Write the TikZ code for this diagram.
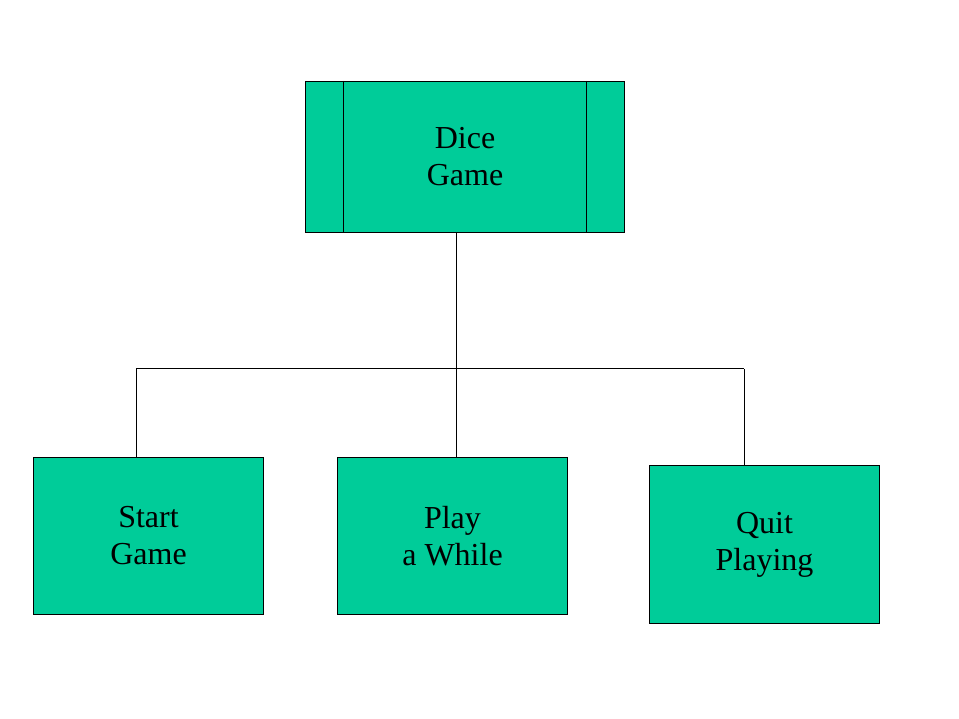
\documentclass[tikz,border=0pt]{standalone}
\usepackage{fontspec}
\setmainfont{Liberation Serif}
\definecolor{boxgreen}{HTML}{00CC99}
\begin{document}
\begin{tikzpicture}[x=1pt,y=-1pt,
  box/.style={draw=black,line width=1pt,fill=boxgreen,inner sep=0pt,anchor=north west,
    font=\fontsize{32}{37}\selectfont,align=center,text=black},
  conn/.style={draw=black,line width=1pt}]
\useasboundingbox (0,0) rectangle (959,719);
% top box
\node[box,minimum width=319pt,minimum height=151pt] (dice) at (305,81) {Dice\\ Game};
\draw[line width=1pt] (343,81) -- (343,232) (586,81) -- (586,232);
% bottom boxes
\node[box,minimum width=230pt,minimum height=157pt] (start) at (33,457) {Start\\ Game};
\node[box,minimum width=230pt,minimum height=157pt] (play) at (337,457) {Play\\ a While};
\node[box,minimum width=230pt,minimum height=158pt] (quit) at (649,465) {Quit\\ Playing};
% connectors
\coordinate (hub) at (456,369);
\coordinate (hl) at (136,369);
\coordinate (hr) at (744,369);
\draw[conn] (dice.south -| hub) -- (hub);
\draw[conn] (hl) -- (hr);
\draw[conn] (hl) -- (hl |- start.north);
\draw[conn] (hub) -- (hub |- play.north);
\draw[conn] (hr) -- (hr |- quit.north);
\end{tikzpicture}
\end{document}
